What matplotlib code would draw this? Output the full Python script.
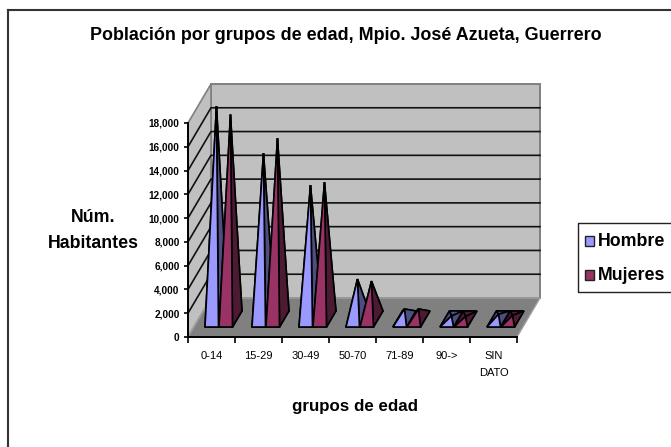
from matplotlib import pyplot as plt
from matplotlib.lines import Line2D
from matplotlib.patches import Polygon

plt.rcParams['font.family'] = ['Liberation Sans', 'DejaVu Sans']

grupos = ['0-14', '15-29', '30-49', '50-70', '71-89', '90->', 'SIN\n\nDATO']
hombres = [17900, 13950, 11260, 3360, 840, 250, 400]
mujeres = [17200, 15200, 11500, 3190, 840, 200, 300]
marcas_y = [0, 2000, 4000, 6000, 8000, 10000, 12000, 14000, 16000, 18000]

W, H = 671, 447
fig = plt.figure(figsize=(W / 100, H / 100), dpi=100)
ax = fig.add_axes([188 / W, (H - 337) / H, 329 / W, 214 / H])
ax.set_xlim(0, 7)
ax.set_ylim(0, 18000)
ax.patch.set_visible(False)

# depth of the 3d box, in data units
dx = 23 / 47
dy = 39 / 214 * 18000


def poly(pts, fc, ec='none', lw=0, z=1, **kw):
    p = Polygon(pts, closed=True, facecolor=fc, edgecolor=ec, linewidth=lw,
                zorder=z, clip_on=False, joinstyle='miter', **kw)
    ax.add_patch(p)
    return p


# walls and floor
poly([(dx, dy), (7 + dx, dy), (7 + dx, 18000 + dy), (dx, 18000 + dy)], '#c0c0c0', '#808080', 1.4, 1)
poly([(0, 0), (dx, dy), (dx, 18000 + dy), (0, 18000)], '#c0c0c0', '#808080', 1.2, 1)
poly([(0, 0), (7, 0), (7 + dx, dy), (dx, dy)], '#808080', '#a0a0a0', 1.0, 1.1)

for v in marcas_y[1:-1]:
    ax.plot([0, dx, 7 + dx], [v, v + dy, v + dy], color='#111111', lw=1.2, zorder=1.2, clip_on=False)


def piramide(x0, v, luz, sombra, z):
    # base goes from 0.256 to 0.667 of the box depth
    w = 13.5 / 47
    f = 10 / 39
    b = 26 / 39
    fl = (x0, f * dy)
    fr = (x0 + w, f * dy)
    bl = (x0 + (b - f) * dx, b * dy)
    br = (x0 + w + (b - f) * dx, b * dy)
    tip = (x0 + w / 2 + (b - f) * dx / 2, (f + b) / 2 * dy + v)
    ek = dict(ec='#000000', lw=1.2)
    poly([fl, fr, br, bl], sombra, z=z, **ek)
    poly([bl, br, tip], sombra, z=z, **ek)
    poly([fl, bl, tip], sombra, z=z, **ek)
    poly([fr, br, tip], sombra, z=z, **ek)
    poly([fl, fr, tip], luz, z=z, **ek)


for i in range(len(grupos)):
    piramide(i + 17 / 47, hombres[i], '#9999ff', '#4d4d80', 3 + i * 0.1)
    piramide(i + 31 / 47, mujeres[i], '#993366', '#4d1a33', 3 + i * 0.1 + 0.05)

ax.set_yticks(marcas_y)
ax.set_yticklabels([f'{v:,}' for v in marcas_y], fontsize=7.2, fontweight='bold')
ax.set_xticks(range(8))
ax.set_xticklabels([])
ax.set_xticks([i + 0.5 for i in range(7)], minor=True)
ax.set_xticklabels(grupos, minor=True, fontsize=8, linespacing=0.85)
ax.tick_params(axis='x', which='minor', length=0, pad=10)
ax.tick_params(axis='x', which='major', length=4, width=1.2, direction='out')
ax.tick_params(axis='y', length=3, width=1.2, pad=3)
for s in ['top', 'right']:
    ax.spines[s].set_visible(False)
for s in ['left', 'bottom']:
    ax.spines[s].set_linewidth(1.4)
    ax.spines[s].set_zorder(2)


def ftext(x, y, s, size, **kw):
    fig.text(x / W, 1 - y / H, s, fontsize=size, fontweight='bold', ha='center', va='center', **kw)


ftext(346, 36, 'Población por grupos de edad, Mpio. José Azueta, Guerrero', 12.9)
ftext(93, 217, 'Núm.', 12.8)
ftext(93, 243, 'Habitantes', 12.8)
ftext(355, 407, 'grupos de edad', 12.2)

# chart frame, right and bottom fall outside the crop
fig.add_artist(Line2D([8 / W, 8 / W], [0, 1 - 10 / H], color='#333333', lw=1.5))
fig.add_artist(Line2D([8 / W, 1], [1 - 10 / H, 1 - 10 / H], color='#333333', lw=1.5))

# legend box
fig.add_artist(Line2D([1, 578 / W, 578 / W, 1], [1 - 223 / H, 1 - 223 / H, 1 - 292 / H, 1 - 292 / H],
                      color='#222222', lw=1.0))
series = [('Hombre', '#9999ff', 241), ('Mujeres', '#993366', 275)]
for nombre, color, y in series:
    fig.add_artist(Polygon([(585 / W, 1 - (y - 5) / H), (594 / W, 1 - (y - 5) / H),
                            (594 / W, 1 - (y + 5) / H), (585 / W, 1 - (y + 5) / H)],
                           closed=True, facecolor=color, edgecolor='#222222', linewidth=1.0,
                           transform=fig.transFigure))
    fig.text(598 / W, 1 - y / H, nombre, fontsize=12.8, fontweight='bold', ha='left', va='center')

fig.savefig('out.png', dpi=100)
